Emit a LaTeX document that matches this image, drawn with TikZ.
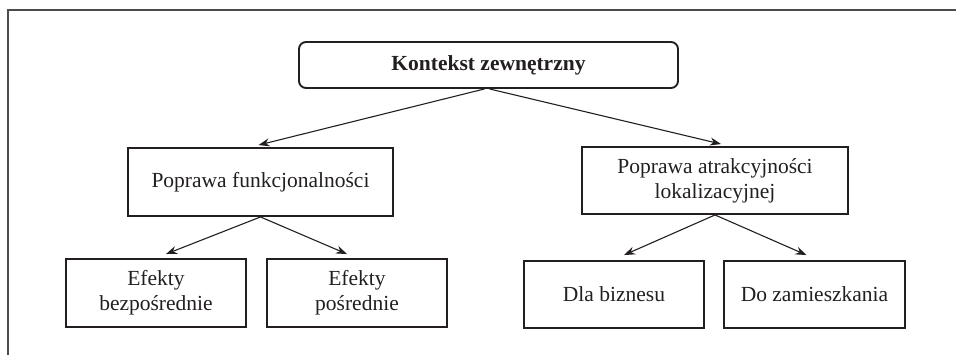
\documentclass[tikz,border=0pt]{standalone}
\usepackage{fontspec}
\setmainfont{Liberation Serif}
\usetikzlibrary{arrows.meta}
\definecolor{ink}{HTML}{231F20}
\begin{document}
\begin{tikzpicture}[x=1pt,y=-1pt,
  every node/.style={font=\fontsize{21.5}{25}\selectfont, text=ink, align=center, inner sep=0pt},
  box/.style={draw=ink, line width=1.9pt, rectangle},
  arr/.style={draw=ink, line width=1.1pt, -{Stealth[length=11pt,width=8pt]}}]
\useasboundingbox (0,0) rectangle (956,355);
\draw[gray!60!black, line width=1.4pt] (8,356) -- (8,10) -- (957,10);
\node[box, rounded corners=7pt, minimum width=379pt, minimum height=46pt] (top) at (488.5,65) {\bfseries Kontekst zewnętrzny};
\node[box, minimum width=265pt, minimum height=68pt] (L) at (260.5,182) {Poprawa funkcjonalności};
\node[box, minimum width=266pt, minimum height=67pt] (R) at (715,180.5) {Poprawa atrakcyjności\\lokalizacyjnej};
\node[box, minimum width=180pt, minimum height=68pt] (EB) at (156,293) {Efekty\\bezpośrednie};
\node[box, minimum width=180pt, minimum height=68pt] (EP) at (357,293) {Efekty\\pośrednie};
\node[box, minimum width=180pt, minimum height=67pt] (DB) at (614,294.5) {Dla biznesu};
\node[box, minimum width=181pt, minimum height=67pt] (DZ) at (814.5,294.5) {Do zamieszkania};
\draw[arr] ([xshift=-4pt]top.south) -- ([xshift=-2pt,yshift=2pt]L.north);
\draw[arr] ([xshift=1pt]top.south) -- ([xshift=6pt,yshift=2pt]R.north);
\draw[arr] (L.south) -- ([xshift=10pt,yshift=4pt]EB.north);
\draw[arr] (L.south) -- ([xshift=-10pt,yshift=4pt]EP.north);
\draw[arr] (R.south) -- ([xshift=10pt,yshift=5pt]DB.north);
\draw[arr] (R.south) -- ([xshift=-8pt,yshift=5pt]DZ.north);
\end{tikzpicture}
\end{document}
